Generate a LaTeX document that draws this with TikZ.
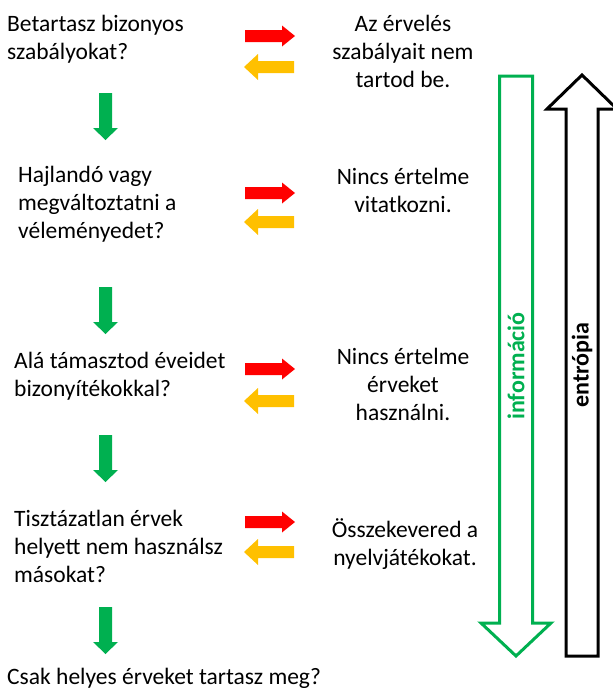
\documentclass[tikz,border=0pt]{standalone}
\usepackage{fontspec}
\setmainfont{Carlito}
\usepackage{tikz}
\definecolor{okgreen}{HTML}{00B050}
\definecolor{nored}{HTML}{FF0000}
\definecolor{backorange}{HTML}{FFC000}
\tikzset{
  question/.style={anchor=north west, align=left, inner sep=0pt, font=\fontsize{23.5}{28}\selectfont},
  answer/.style={anchor=north, align=center, inner sep=0pt, font=\fontsize{23.5}{28}\selectfont},
  fwd/.style={fill=nored, draw=none},
  back/.style={fill=backorange, draw=none},
  down/.style={fill=okgreen, draw=none},
  infoarrow/.style={draw=okgreen, line width=3pt, line join=miter},
  entarrow/.style={draw=black, line width=3pt, line join=miter},
  axislbl/.style={rotate=90, inner sep=0pt, font=\fontsize{24}{28}\selectfont\bfseries}
}

\begin{document}
\begin{tikzpicture}[x=1pt, y=-1pt]
\useasboundingbox (0,0) rectangle (613,688);

% questions on the left
\node[question] (q1) at (7,11.7) {\strut Betartasz bizonyos\\szabályokat?};
\node[question] (q2) at (18,162.7) {\strut Hajlandó vagy\\megváltoztatni a\\véleményedet?};
\node[question] (q3) at (14,348.7) {\strut Alá támasztod éveidet\\bizonyítékokkal?};
\node[question] (q4) at (14,506.7) {\strut Tisztázatlan érvek\\helyett nem használsz\\másokat?};
\node[question, anchor=base west] (q5) at (7,684) {Csak helyes érveket tartasz meg?};

% answers on the right
\node[answer] (a1) at (403,11.7) {\strut Az érvelés\\szabályait nem\\tartod be.};
\node[answer] (a2) at (403,164.7) {\strut Nincs értelme\\vitatkozni.};
\node[answer] (a3) at (403,344.7) {\strut Nincs értelme\\érveket\\használni.};
\node[answer] (a4) at (405,517.7) {\strut Összekevered a\\nyelvjátékokat.};

% green arrows down
\fill[down] (99,93) -- ++(13,0) -- ++(0,35) -- ++(6,0) -- ++(-12.5,12) -- ++(-12.5,-12) -- ++(6,0) -- cycle;
\fill[down] (99,287) -- ++(13,0) -- ++(0,35) -- ++(6,0) -- ++(-12.5,12) -- ++(-12.5,-12) -- ++(6,0) -- cycle;
\fill[down] (99,435) -- ++(13,0) -- ++(0,35) -- ++(6,0) -- ++(-12.5,12) -- ++(-12.5,-12) -- ++(6,0) -- cycle;
\fill[down] (99,607) -- ++(13,0) -- ++(0,35) -- ++(6,0) -- ++(-12.5,12) -- ++(-12.5,-12) -- ++(6,0) -- cycle;

% red arrows to the right
\fill[fwd] (245,30) -- ++(37,0) -- ++(0,-4.5) -- ++(13,10.5) -- ++(-13,10.5) -- ++(0,-4.5) -- ++(-37,0) -- cycle;
\fill[fwd] (245,187) -- ++(37,0) -- ++(0,-4.5) -- ++(13,10.5) -- ++(-13,10.5) -- ++(0,-4.5) -- ++(-37,0) -- cycle;
\fill[fwd] (245,363) -- ++(37,0) -- ++(0,-4.5) -- ++(13,10.5) -- ++(-13,10.5) -- ++(0,-4.5) -- ++(-37,0) -- cycle;
\fill[fwd] (245,516) -- ++(37,0) -- ++(0,-4.5) -- ++(13,10.5) -- ++(-13,10.5) -- ++(0,-4.5) -- ++(-37,0) -- cycle;

% orange arrows back
\fill[back] (294,61) -- ++(-36,0) -- ++(0,-7) -- ++(-14,13) -- ++(14,13) -- ++(0,-7) -- ++(36,0) -- cycle;
\fill[back] (294,216) -- ++(-36,0) -- ++(0,-7) -- ++(-14,13) -- ++(14,13) -- ++(0,-7) -- ++(36,0) -- cycle;
\fill[back] (294,395) -- ++(-36,0) -- ++(0,-7) -- ++(-14,13) -- ++(14,13) -- ++(0,-7) -- ++(36,0) -- cycle;
\fill[back] (294,546) -- ++(-36,0) -- ++(0,-7) -- ++(-14,13) -- ++(14,13) -- ++(0,-7) -- ++(36,0) -- cycle;

% big hollow arrows
\draw[infoarrow] (499.5,76) -- (532.5,76) -- (532.5,623) -- (551,623) -- (516,656) -- (481,623) -- (499.5,623) -- cycle;
\draw[entarrow] (582,75) -- (617,109) -- (598,109) -- (598,656) -- (566,656) -- (566,109) -- (547,109) -- cycle;
\node[axislbl, text=okgreen] (info) at (516,366) {információ};
\node[axislbl] (entr) at (582,365) {entrópia};
\end{tikzpicture}
\end{document}
